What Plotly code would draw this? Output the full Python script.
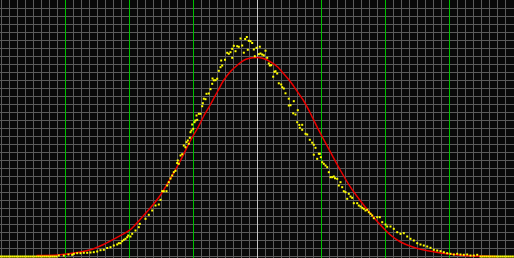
import plotly.graph_objects as go

# ---- data ----
# x in pixel-ish units (centre of distribution at 256, one sigma = 64), y = height above baseline
red_x = [35, 56, 76, 89, 102, 116, 129, 139, 149, 159, 169, 179, 189, 197, 202, 209, 216, 222, 229,
         236, 242, 247, 256, 262, 269, 276, 282, 289, 296, 302, 309, 316, 319, 329, 339, 349, 359,
         369, 379, 389, 399, 412, 429, 446, 462, 479, 495]
red_y = [1, 1.5, 4, 6.7, 12, 19.3, 27, 37.5, 48.7, 61.5, 78, 96, 116, 130, 140, 152, 165, 176, 185,
         191.5, 196, 198, 199, 198, 194.7, 189.7, 183, 174.7, 164.7, 156, 143, 128.7, 123, 104.3, 86,
         69.3, 55.5, 43, 31.5, 21.5, 14.5, 9.3, 5.3, 2.7, 1, 0.5, 0]

yel_x = [-1, 1, 3, 5, 7, 9, 11, 13, 15, 17, 19, 21, 23, 25, 27, 29, 31, 33, 35, 37, 39, 41, 43, 45, 47,
         49, 51, 53, 55,
         57.3, 62.3, 67, 70.7, 72.3, 75.7, 79, 82.3, 85.7, 89, 92.3, 95.7, 99, 102.3, 105.7, 109,
         112.3, 115.7, 117.3, 119, 120.7, 122.3, 124, 125.7, 126.7, 129, 130.7, 134, 137.3, 138.3,
         144, 147.3, 150.7, 154, 157.3, 159, 160.7, 162.3, 165, 165.7, 167.3, 169, 170.7, 172.3, 174,
         175.7, 176.3, 177.3, 179, 180.7, 182.3, 184, 185, 186.3, 187.3, 188.3, 189, 190, 190.7, 191.7,
         193, 194, 195, 195.7, 197.3, 199, 200.7, 201.3, 202.3, 204, 205, 207.3, 209, 210.7, 211,
         212.3, 214, 215.7, 217.3, 219, 219.7, 220.7, 223.5, 225.7, 227.3, 229, 230.7, 230.7, 232.3,
         234, 235.7, 237.3, 239, 240.7, 242.3, 243.7, 245.3, 246.3, 247.3, 249, 250.7, 252.3, 253.3,
         255, 257.3, 258.3, 259, 260.7, 262.3, 264, 265.7, 267.3, 268.3, 269.7, 271.7, 273, 274, 275.7,
         277.3, 279.7, 280.7, 282.3, 284, 287.3, 287.3, 289, 292.3, 291.7, 294, 296.3, 295.7, 297.8,
         298.3, 300.7, 300.7, 304, 305.7, 308.3, 310.7, 312.3, 314, 312.3, 315.7, 317.3, 318.3, 319.3,
         320.7, 322.3, 324, 325.7, 327.3, 329, 330.7, 332.3, 333.5, 335.7, 337.3, 339, 340.7, 342.3,
         344, 345.7, 347.3, 349, 350.7, 352.3, 355.7, 357.3, 359, 360.7, 362.3, 364, 365.7, 367.3,
         369, 370.7, 372.3, 375.7, 378.3, 380.7, 384, 385.7, 389, 392.3, 395.7, 399, 402.3, 405.7,
         409, 412.3, 415.7, 419, 422.3, 425.7, 429, 432.3, 435.7, 439, 442.3, 445.7, 449, 452.3,
         455.7, 459, 462.3, 465.7, 469, 472.3, 475.7, 479,
         481, 483, 485, 487, 489, 491, 493, 495, 497, 499, 501, 503, 505, 507, 509, 511, 513]
yel_y = [0, 0, 0, 0, 0, 0, 0, 0, 0, 0, 0, 0, 0, 0, 0, 0, 0, 0, 0, 0, 0, 0, 0, 0, 0,
         0, 0, 0, 0,
         1, 1, 2, 1.7, 2.7, 3.3, 3.3, 3.7, 3.7, 4, 4.3, 5, 6.3, 6.7, 8.5, 9.3,
         11, 12, 13.3, 13.3, 15.3, 16.7, 17.7, 19.3, 21, 20, 22.7, 26, 29.3, 32.7,
         37.7, 41.7, 46, 51, 52, 56.7, 65.3, 65.3, 65.3, 71, 74.3, 78, 81, 84.3, 85.7,
         93.5, 96, 92.7, 101, 102.3, 111, 109.3, 114.3, 116, 112.7, 118.7, 124.3, 126, 132, 127.7,
         134.3, 136, 141, 136.7, 142.7, 142.7, 150.3, 153.3, 157.8, 157.3, 162.7, 163, 167.3, 172.7, 178,
         176.2, 176.3, 177.8, 185.7, 189.3, 196, 191, 196.7, 203.7, 202.7, 204.3, 207.7, 198.7, 210.7,
         205.3, 210.3, 209.7, 218, 211, 203.8, 217.5, 219.5, 206.7, 215.7, 215.3, 213.5, 207, 200.3,
         208.7, 202.3, 209.8, 203, 202, 201.2, 205.8, 198.7, 193, 191, 191.3, 179.8, 184.7, 185.3, 183,
         173.2, 172, 169.3, 168, 163.2, 157.8, 151, 151.3, 155.3, 143.2, 142, 146.3, 134.3, 131.6,
         128.7, 131.7, 126.7, 122.7, 122, 116.7, 113.8, 111.7, 108.7, 101.8, 97.7, 102.7, 102.7, 99.3,
         94.3, 92.7, 91, 89.3, 84.3, 79.3, 79.3, 80, 78.2, 77.7, 71, 74.3, 69.3, 65.3,
         64.3, 57.7, 62.7, 60, 58.7, 53.3, 53.3, 51, 50, 48.7, 47.7, 46, 46.7, 44.3,
         42.7, 41, 38.3, 39.3, 39.3, 34.3, 32, 30, 30, 27.7, 24.3, 22.7, 23.3, 20,
         17.7, 16, 13.3, 12, 11, 10, 8.7, 6.7, 6, 5.3, 4.3, 3.3, 2.7, 2,
         2.7, 2, 1.7, 2, 1, 1, 1.7, 0,
         0, 0, 0, 0, 0, 0, 0, 0, 0, 0, 0, 0, 0, 0, 0, 0, 0]

sigma_lines = [64, 128, 192, 320, 384, 448]
centre_line = 256

# ---- figure ----
fig = go.Figure()

# coloured reference verticals drawn as line traces (under the data)
for xv in sigma_lines:
    fig.add_trace(go.Scatter(x=[xv, xv], y=[-1.5, 256.5], mode="lines",
                             line=dict(color="#00c000", width=1), hoverinfo="skip"))
fig.add_trace(go.Scatter(x=[centre_line, centre_line], y=[-1.5, 256.5], mode="lines",
                         line=dict(color="#c8c8c8", width=1), hoverinfo="skip"))

fig.add_trace(go.Scatter(x=red_x, y=red_y, mode="lines",
                         line=dict(color="#e80000", width=1.5, shape="spline", smoothing=0.8),
                         hoverinfo="skip"))
fig.add_trace(go.Scatter(x=yel_x, y=yel_y, mode="markers",
                         marker=dict(symbol="square", size=2, color="#ffff00", line=dict(width=0)),
                         hoverinfo="skip"))

axis_common = dict(showticklabels=False, ticks="", showline=False, zeroline=False,
                   showgrid=True, gridcolor="#5c5c5c", gridwidth=1, tick0=0, dtick=8)
fig.update_layout(
    width=514, height=258, margin=dict(l=0, r=0, t=0, b=0),
    paper_bgcolor="#0a0a0a", plot_bgcolor="#0a0a0a", showlegend=False,
    xaxis=dict(range=[-1.5, 512.5], **axis_common),
    yaxis=dict(range=[-1.5, 256.5], **axis_common),
)
fig.write_html("out.html", config={"displayModeBar": False})
